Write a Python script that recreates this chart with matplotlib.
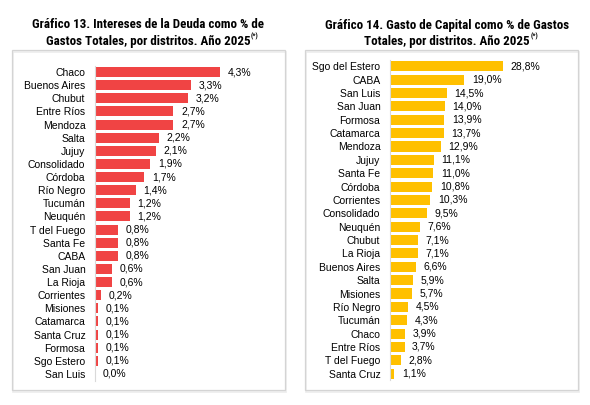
import matplotlib.pyplot as plt
from matplotlib.patches import Rectangle
from matplotlib import font_manager

# Gráfico 13: intereses de la deuda (% de gastos totales)
distritos_13 = ["Chaco", "Buenos Aires", "Chubut", "Entre Ríos", "Mendoza", "Salta",
                "Jujuy", "Consolidado", "Córdoba", "Río Negro", "Tucumán", "Neuquén",
                "T del Fuego", "Santa Fe", "CABA", "San Juan", "La Rioja", "Corrientes",
                "Misiones", "Catamarca", "Santa Cruz", "Formosa", "Sgo Estero", "San Luis"]
intereses = [4.3, 3.3, 3.2, 2.7, 2.7, 2.2, 2.1, 1.9, 1.7, 1.4, 1.2, 1.2,
             0.8, 0.8, 0.8, 0.6, 0.6, 0.2, 0.1, 0.1, 0.1, 0.1, 0.1, 0.0]

# Gráfico 14: gasto de capital (% de gastos totales)
distritos_14 = ["Sgo del Estero", "CABA", "San Luis", "San Juan", "Formosa", "Catamarca",
                "Mendoza", "Jujuy", "Santa Fe", "Córdoba", "Corrientes", "Consolidado",
                "Neuquén", "Chubut", "La Rioja", "Buenos Aires", "Salta", "Misiones",
                "Río Negro", "Tucumán", "Chaco", "Entre Ríos", "T del Fuego", "Santa Cruz"]
capital = [28.8, 19.0, 14.5, 14.0, 13.9, 13.7, 12.9, 11.1, 11.0, 10.8, 10.3, 9.5,
           7.6, 7.1, 7.1, 6.6, 5.9, 5.7, 4.5, 4.3, 3.9, 3.7, 2.8, 1.1]

titulo_13 = ["Gráfico 13. Intereses de la Deuda como % de",
             "Gastos Totales, por distritos. Año 2025"]
titulo_14 = ["Gráfico 14. Gasto de Capital como % de Gastos",
             "Totales, por distritos. Año 2025"]

nombres = {f.name for f in font_manager.fontManager.ttflist}
fuente_titulo = [f for f in ["Liberation Sans Narrow", "Roboto Condensed", "Liberation Sans"]
                 if f in nombres] + ["DejaVu Sans"]
plt.rcParams['font.family'] = ["Liberation Sans", "DejaVu Sans"]

W, H = 590, 405
fig = plt.figure(figsize=(W / 100, H / 100), dpi=100)


def caja(x0, y0, x1, y1):
    # marco gris claro alrededor de cada gráfico (coordenadas en pixeles)
    fig.patches.append(Rectangle((x0 / W + 0.002, 1 - y1 / H - 0.004), (x1 - x0) / W, (y1 - y0) / H,
                                 transform=fig.transFigure, facecolor="none",
                                 edgecolor="#ececec", linewidth=1.2, zorder=0))
    fig.patches.append(Rectangle((x0 / W, 1 - y1 / H), (x1 - x0) / W, (y1 - y0) / H,
                                 transform=fig.transFigure, facecolor="none",
                                 edgecolor="#d4d4d4", linewidth=0.9, zorder=1))


def panel(rect, etiquetas, valores, xmax, color, titulo, xt):
    ax = fig.add_axes(rect)
    y = list(range(len(valores)))
    ax.barh(y, valores, height=0.76, color=color)
    ax.set_ylim(len(valores) - 0.5, -0.5)
    ax.set_xlim(0, xmax)
    ax.set_yticks(y)
    ax.set_yticklabels(etiquetas, fontsize=7.5)
    ax.tick_params(axis="y", length=0, pad=7)
    ax.set_xticks([])
    for s in ["top", "right", "bottom"]:
        ax.spines[s].set_visible(False)
    ax.spines["left"].set_color("#d9d9d9")
    ax.spines["left"].set_linewidth(0.8)
    for yi, v in zip(y, valores):
        ax.annotate(f"{v:.1f}%".replace(".", ","), (v, yi), xytext=(5.5, 0),
                    textcoords="offset points", va="center", ha="left", fontsize=7.5)
    # título en dos líneas, con la llamada (*) después de la segunda
    fig.text(xt / W, 1 - 25 / H, titulo[0], ha="center", va="center", fontsize=9.4,
             fontweight="bold", family=fuente_titulo)
    t2 = fig.text(xt / W, 1 - 42 / H, titulo[1], ha="center", va="center", fontsize=9.4,
                  fontweight="bold", family=fuente_titulo)
    fig.canvas.draw()
    bb = t2.get_window_extent()
    fig.text(bb.x1 / W + 0.001, bb.y1 / H - 0.012, "(*)", fontsize=5,
             fontweight="bold", family=fuente_titulo, ha="left", va="bottom")
    return ax


caja(12, 50, 285, 390)
caja(305, 50, 578, 390)

panel([95 / W, 1 - 380.5 / H, 180 / W, 315 / H], distritos_13, intereses, 180 / 29.0,
      "#f04444", titulo_13, 148)
panel([390 / W, 1 - 380.4 / H, 180 / W, 320.8 / H], distritos_14, capital, 180 / 3.92,
      "#ffc000", titulo_14, 447)

fig.savefig("out.png", dpi=100)
